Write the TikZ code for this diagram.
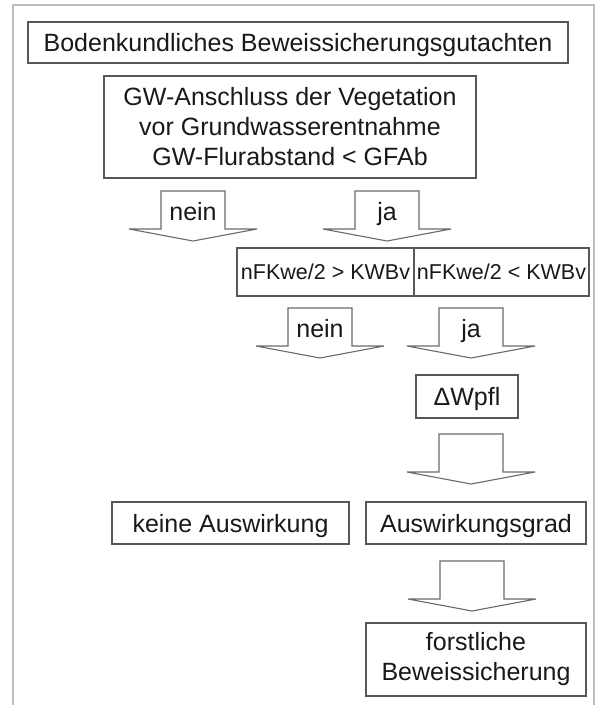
\documentclass[tikz,border=0pt]{standalone}
\usepackage{fontspec}
\setmainfont{Liberation Sans}
\usetikzlibrary{calc}

\definecolor{boxgray}{HTML}{575757}
\definecolor{arrowgray}{HTML}{6A6A6A}
\definecolor{framegray}{HTML}{BDBDBD}

\begin{document}
\begin{tikzpicture}[x=1pt, y=-1pt,
    box/.style={draw=boxgray, line width=1.5pt, inner sep=0pt, align=center,
        text=black!90, font=\fontsize{25}{30}\selectfont},
    oneline/.style={text height=18pt, text depth=0pt},
    smallbox/.style={box, font=\fontsize{21.5}{26}\selectfont,
        text height=15.5pt, text depth=0pt},
    arrowline/.style={draw=arrowgray, line width=1.1pt, line join=miter},
    arrowlabel/.style={anchor=base, inner sep=0pt, text=black!90,
        font=\fontsize{25}{30}\selectfont},
    downarrow/.pic={
        \draw[arrowline] (-\shaftW,0) -- (\shaftW,0) -- (\shaftW,\wingY)
            -- (\wingW,\wingY) -- (0,\tipY) -- (-\wingW,\wingY)
            -- (-\shaftW,\wingY) -- cycle;
    }]

    % Parameters
    \def\shaftW{32}
    \def\wingW{64}
    \def\wingY{38}
    \def\tipY{50}

    % Page and frame
    \useasboundingbox[fill=white] (0,0) rectangle (601,705);
    \draw[framegray, line width=2.5pt] (13,705) -- (13,5) -- (594,5) -- (594,705);

    % Boxes
    \node[box, oneline, minimum width=540, minimum height=41] (titel) at (298,42.5)
        {Bodenkundliches Beweissicherungsgutachten};
    \node[box, minimum width=372, minimum height=102] (anschluss) at (290,127)
        {GW-Anschluss der Vegetation\\vor Grundwasserentnahme\\GW-Flurabstand < GFAb};
    \node[smallbox, minimum width=177, minimum height=48] (groesser) at (325.5,272)
        {nFKwe/2 > KWBv};
    \node[smallbox, minimum width=175, minimum height=48] (kleiner) at (501.5,272)
        {nFKwe/2 < KWBv};
    \node[box, oneline, minimum width=102, minimum height=43] (dwpfl) at (467,396.5)
        {ΔWpfl};
    \node[box, oneline, minimum width=237, minimum height=42] (keine) at (230.5,523)
        {keine Auswirkung};
    \node[box, oneline, minimum width=220, minimum height=42] (grad) at (476,523)
        {Auswirkungsgrad};
    \node[box, minimum width=220, minimum height=73] (forst) at (476,659.5)
        {forstliche\\Beweissicherung};

    % Block arrows
    \pic (neinA) at (193,191) {downarrow};
    \pic (jaA)   at (387,191) {downarrow};
    \pic (neinB) at (320,308) {downarrow};
    \pic (jaB)   at (471,308) {downarrow};
    \pic (zuGrad)  at (471,434) {downarrow};
    \pic (zuForst) at (472,561) {downarrow};

    % Arrow labels
    \node[arrowlabel] (labNeinA) at (193,220) {nein};
    \node[arrowlabel] (labJaA)   at (387,220) {ja};
    \node[arrowlabel] (labNeinB) at (320,337) {nein};
    \node[arrowlabel] (labJaB)   at (471,337) {ja};

\end{tikzpicture}
\end{document}
